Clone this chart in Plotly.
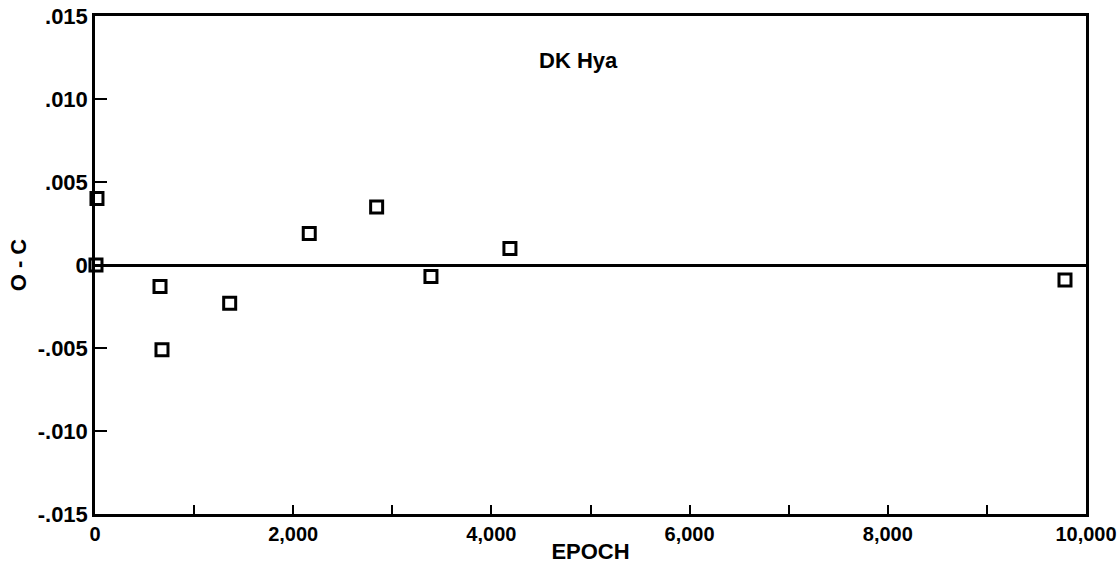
import plotly.graph_objects as go

epoch = [20, 10, 656, 676, 1359, 2162, 2842, 3390, 4187, 9788]
o_minus_c = [0.0040, 0.0000, -0.0013, -0.0051, -0.0023, 0.0019, 0.0035, -0.0007, 0.0010, -0.0009]

x_tickvals = [0, 1000, 2000, 3000, 4000, 5000, 6000, 7000, 8000, 9000, 10000]
x_ticktext = ["0", "", "2,000", "", "4,000", "", "6,000", "", "8,000", "", "10,000"]
y_tickvals = [-0.015, -0.010, -0.005, 0, 0.005, 0.010, 0.015]
y_ticktext = ["-.015", "-.010", "-.005", "0", ".005", ".010", ".015"]

font = dict(family="Liberation Sans, Arial, sans-serif", size=22, color="black", weight="bold")
xfont = dict(font, size=20)

fig = go.Figure()
fig.add_trace(go.Scatter(
    x=epoch, y=o_minus_c, mode="markers",
    marker=dict(symbol="square-open", size=12, color="black", line=dict(width=3)),
    showlegend=False, cliponaxis=False,
))

fig.update_layout(
    width=1117, height=573,
    margin=dict(l=95, r=31, t=16, b=59, autoexpand=False),
    paper_bgcolor="white", plot_bgcolor="white",
    font=font,
    xaxis=dict(
        range=[0, 10000], tickvals=x_tickvals, ticktext=x_ticktext,
        ticks="inside", ticklen=9, tickwidth=2, tickcolor="black",
        showline=True, linewidth=2.5, linecolor="black", mirror=True,
        showgrid=False, zeroline=False, automargin=False,
        ticklabeloverflow="allow",
        title=dict(text="EPOCH", standoff=0, font=font),
        tickfont=xfont,
    ),
    yaxis=dict(
        range=[-0.015, 0.015], tickvals=y_tickvals, ticktext=y_ticktext,
        ticks="inside", ticklen=12, tickwidth=2, tickcolor="black",
        showline=True, linewidth=2.5, linecolor="black", mirror=True,
        showgrid=False, zeroline=True, zerolinecolor="black", zerolinewidth=2.5,
        automargin=False, ticklabeloverflow="allow",
        title=dict(text="O - C", standoff=5, font=font),
        tickfont=font,
    ),
    annotations=[dict(
        text="DK Hya", x=0.488, y=0.91, xref="paper", yref="paper",
        showarrow=False, font=font, xanchor="center", yanchor="middle",
    )],
)

fig.write_html("out.html", config={"displayModeBar": False},
               post_script="document.body.style.margin='0px';")
